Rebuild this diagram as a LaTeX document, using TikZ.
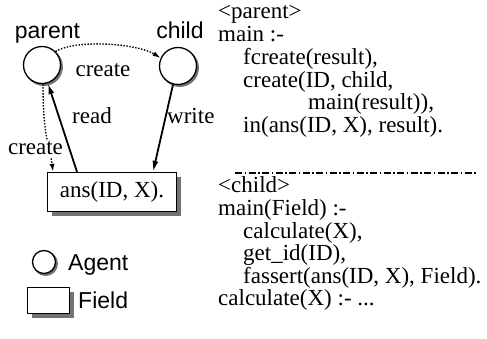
\documentclass[tikz,border=0pt]{standalone}
\usepackage{fontspec}
\setmainfont{Liberation Serif}
\setsansfont{Liberation Sans}
\usetikzlibrary{arrows.meta,shadows}
\begin{document}
\begin{tikzpicture}[x=1pt,y=-1pt,
  agent/.style={circle,draw,line width=1.3pt,fill=white,minimum size=37pt,inner sep=0pt,
    copy shadow={shadow xshift=1.8pt,shadow yshift=-1.8pt,draw=black!55,fill=black!55}},
  field/.style={rectangle,draw,line width=1.3pt,fill=white,inner sep=0pt},
  fshadow/.style={copy shadow={shadow xshift=#1,shadow yshift=-#1,draw=none,fill=black!55}},
  lbl/.style={font=\fontsize{23}{23}\selectfont},
  sflbl/.style={font=\sffamily\fontsize{23}{23}\selectfont,inner sep=0pt},
  code/.style={lbl,anchor=base west,inner sep=0pt},
  solidarrow/.style={line width=1.8pt,-{Latex[length=11pt,width=6pt]}},
  dottedarrow/.style={line width=1.4pt,dash pattern=on 1.4pt off 1.6pt,-{Latex[length=8pt,width=5pt]}},
  sepline/.style={line width=1.1pt,dash pattern=on 7pt off 2.5pt on 1.5pt off 2.5pt},
]
\useasboundingbox (0,0) rectangle (487,339);

% agents and field
\node[agent] (parent) at (42,65) {};
\node[agent] (child) at (178,66) {};
\node[field,fshadow=4.5pt,minimum width=129pt,minimum height=39pt,lbl] (ans) at (112,192) {ans(ID, X).};

\node[sflbl,anchor=base] (parentlbl) at (47.5,39) {parent};
\node[sflbl,anchor=base] (childlbl) at (180,39) {child};

% connectors
\draw[dottedarrow] (parent.45) .. controls +(20,-12) and +(-25,-15) .. (child.155);
\node[lbl,anchor=base,inner sep=0pt] (createtop) at (103,77) {create};

\draw[solidarrow] ([xshift=-35pt]ans.north) -- (parent.288);
\node[lbl,anchor=base west,inner sep=0pt] (readlbl) at (72,124) {read};

\draw[solidarrow] (child.255) -- ([xshift=41pt]ans.north);
\node[lbl,anchor=base west,inner sep=0pt] (writelbl) at (167,124) {write};

\draw[dottedarrow] (parent.273) .. controls +(0,55) and +(-3,-25) .. ([xshift=-59pt]ans.north);
\node[lbl,anchor=base,fill=white,inner sep=1.5pt] (createleft) at (35.5,155) {create};

% legend
\node[agent,minimum size=23pt,copy shadow={shadow xshift=1.5pt,shadow yshift=-1.5pt,draw=black!55,fill=black!55}] (legagent) at (44,262) {};
\node[sflbl,anchor=base west] (agentlbl) at (68,270) {Agent};
\node[field,fshadow=4pt,minimum width=42pt,minimum height=26pt] (legfield) at (48.5,300.5) {};
\node[sflbl,anchor=base west] (fieldlbl) at (78,308) {Field};

% code
\node[code] (c1) at (218,19) {\textless parent\textgreater};
\node[code] (c2) at (218,41.7) {main :-};
\node[code] (c3) at (243,64.4) {fcreate(result),};
\node[code] (c4) at (243,87.1) {create(ID, child,};
\node[code] (c5) at (308,109.8) {main(result)),};
\node[code] (c6) at (243,132.5) {in(ans(ID, X), result).};

\coordinate (sepL) at (235,173);
\coordinate (sepR) at (477,173);
\draw[sepline] (sepL) -- (sepR);

\node[code] (d1) at (218,193) {\textless child\textgreater};
\node[code] (d2) at (218,215.5) {main(Field) :-};
\node[code] (d3) at (243,238) {calculate(X),};
\node[code] (d4) at (243,260.5) {get\_id(ID),};
\node[code] (d5) at (243,283) {fassert(ans(ID, X), Field).};
\node[code] (d6) at (218,305.5) {calculate(X) :- ...};
\end{tikzpicture}
\end{document}
